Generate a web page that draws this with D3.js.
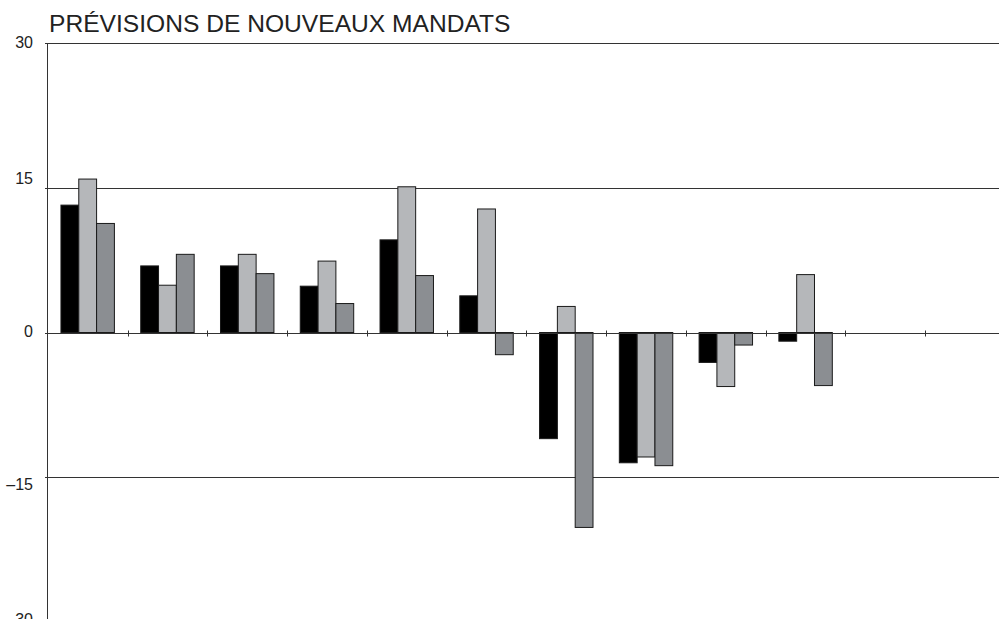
<!DOCTYPE html>
<html>
<head>
<meta charset="utf-8">
<script src="https://cdn.jsdelivr.net/npm/d3@7"></script>
<style>
	html, body { margin: 0; padding: 0; background: #fff; }
	svg { display: block; font-family: "Liberation Sans", Arial, sans-serif; }
</style>
</head>
<body>
<svg id="chart" width="999" height="619"></svg>
<script>
(function (d3) {
	"use strict";

	/***** Data *****/
	var title = "PRÉVISIONS DE NOUVEAUX MANDATS";
	var categories = ["1", "2", "3", "4", "5", "6", "7", "8", "9", "10", "11", "12"];
	var seriesNames = ["A", "B", "C"];
	var serieA = [13.2, 6.9, 6.9, 4.8, 9.6, 3.8, -11.0, -13.5, -3.1, -0.9, null, null];
	var serieB = [15.9, 4.9, 8.1, 7.4, 15.1, 12.8, 2.7, -12.9, -5.6, 6.0, null, null];
	var serieC = [11.3, 8.1, 6.1, 3.0, 5.9, -2.3, -20.2, -13.8, -1.3, -5.5, null, null];
	var yTicks = [30, 15, 0, -15, -30];
	var yTickLabels = ["30", "15", "0", "\u201315", "\u201330"];

	/***** Layout *****/
	const width = 999;
	const height = 619;
	const axisX = 47;
	const step = 79.9;
	const colors = ["#000000", "#b5b7ba", "#8b8e92"];
	const lineColor = "#333";
	// labels in the original sit a little off their gridlines
	const labelNudge = { "30": -1, "15": -10, "0": -1, "-15": 7, "-30": -3 };

	var svg = d3.select("#chart");

	// Scales
	var y = d3.scaleLinear().domain([-30, 30]).range([622, 43]);

	var x0 = d3.scaleBand()
		.domain(categories)
		.range([axisX, axisX + step * categories.length])
		.paddingInner(0.33)
		.paddingOuter(0.175);

	var x1 = d3.scaleBand()
		.domain(seriesNames)
		.range([0, x0.bandwidth()]);

	// Build rows for the bars
	var series = [serieA, serieB, serieC];
	var rows = [];
	categories.forEach(function (c, i) {
		seriesNames.forEach(function (s, j) {
			if (series[j][i] !== null) {
				rows.push({ cat: c, name: s, value: series[j][i], color: colors[j] });
			}
		});
	});

	/***** Title *****/
	svg.append("text")
		.attr("x", 49)
		.attr("y", 32)
		.attr("font-size", 24.6)
		.attr("fill", "#222")
		.text(title);

	/***** Gridlines (behind bars) *****/
	svg.append("g")
		.selectAll("line")
		.data(yTicks.filter(function (t) { return t !== 0; }))
		.join("line")
		.attr("x1", axisX - 2)
		.attr("x2", width)
		.attr("y1", function (d) { return Math.round(y(d)) + 0.5; })
		.attr("y2", function (d) { return Math.round(y(d)) + 0.5; })
		.attr("stroke", lineColor)
		.attr("stroke-width", 1);

	/***** Bars *****/
	svg.append("g")
		.selectAll("rect")
		.data(rows)
		.join("rect")
		.attr("x", function (d) { return x0(d.cat) + x1(d.name); })
		.attr("width", x1.bandwidth())
		.attr("y", function (d) { return y(Math.max(0, d.value)); })
		.attr("height", function (d) { return Math.abs(y(d.value) - y(0)); })
		.attr("fill", function (d) { return d.color; })
		.attr("stroke", "#1a1a1a")
		.attr("stroke-width", 1);

	/***** Zero line and category ticks *****/
	var zeroY = Math.round(y(0)) + 0.5;
	svg.append("line")
		.attr("x1", axisX - 2)
		.attr("x2", width)
		.attr("y1", zeroY)
		.attr("y2", zeroY)
		.attr("stroke", lineColor);

	svg.append("g")
		.selectAll("line")
		.data(categories)
		.join("line")
		.attr("x1", function (d) { return Math.round(x0(d) - x0.step() * x0.paddingInner() / 2 + x0.step()) + 0.5; })
		.attr("x2", function (d) { return Math.round(x0(d) - x0.step() * x0.paddingInner() / 2 + x0.step()) + 0.5; })
		.attr("y1", zeroY - 3)
		.attr("y2", zeroY + 3)
		.attr("stroke", lineColor);

	/***** Y axis *****/
	svg.append("line")
		.attr("x1", axisX + 0.5)
		.attr("x2", axisX + 0.5)
		.attr("y1", y(30))
		.attr("y2", height)
		.attr("stroke", lineColor);

	svg.append("g")
		.selectAll("text")
		.data(yTicks)
		.join("text")
		.attr("x", 33)
		.attr("y", function (d) { return y(d) + labelNudge[String(d)]; })
		.attr("dy", "0.36em")
		.attr("text-anchor", "end")
		.attr("font-size", 16)
		.attr("fill", "#222")
		.text(function (d, i) { return yTickLabels[i]; });

})(d3);
</script>
</body>
</html>
